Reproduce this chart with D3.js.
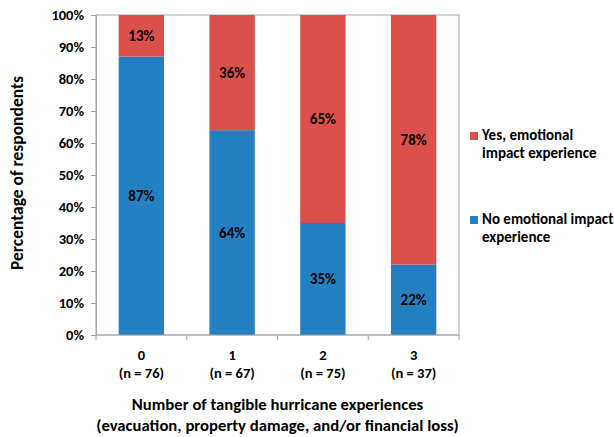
<!DOCTYPE html>
<html>
<head>
<meta charset="utf-8">
<script src="https://cdn.jsdelivr.net/npm/d3@7"></script>
<style>
  body { margin: 0; background: #fff; }
  text { font-family: Carlito, Lato, "Open Sans", sans-serif; font-weight: bold; fill: #000; }
</style>
</head>
<body>
<div id="chart"></div>
<script>
var categories = ["0", "1", "2", "3"];
var sampleSizes = ["(n = 76)", "(n = 67)", "(n = 75)", "(n = 37)"];
var noImpact = [87, 64, 35, 22];
var yesImpact = [13, 36, 65, 78];
var yTicks = [0, 10, 20, 30, 40, 50, 60, 70, 80, 90, 100];
var seriesNames = ["Yes, emotional impact experience", "No emotional impact experience"];

var w = 614,
    h = 437,
    margin = {top: 15, left: 96, right: 155, bottom: 102};
var pw = w - margin.left - margin.right,
    ph = h - margin.top - margin.bottom;

var red = "#dc504c", blue = "#2580c2", axisColor = "#a6a6a6";

var svg = d3.select("#chart").append("svg")
    .attr("width", w)
    .attr("height", h);

var g = svg.append("g")
    .attr("transform", "translate(" + margin.left + "," + margin.top + ")");

var x = d3.scaleBand().domain(categories).range([0, pw]).paddingInner(0.5).paddingOuter(0.25);
var xb = d3.scaleBand().domain(categories).range([0, pw]);
var y = d3.scaleLinear().domain([0, 100]).range([ph, 0]);

var rows = categories.map(function (c, i) {
    return {cat: c, no: noImpact[i], yes: yesImpact[i]};
});
var stack = d3.stack().keys(["no", "yes"])(rows);
var colors = {no: blue, yes: red};

// plot area border
g.append("rect")
    .attr("x", 0).attr("y", 0)
    .attr("width", pw).attr("height", ph)
    .attr("fill", "none")
    .attr("stroke", axisColor)
    .attr("stroke-width", 1);

stack.forEach(function (layer) {
    var lg = g.append("g");
    lg.selectAll("rect").data(layer).enter()
        .append("rect")
        .attr("x", function (d) { return x(d.data.cat); })
        .attr("width", x.bandwidth())
        .attr("y", function (d) { return y(d[1]); })
        .attr("height", function (d) { return y(d[0]) - y(d[1]); })
        .attr("fill", colors[layer.key]);
    lg.selectAll("text").data(layer).enter()
        .append("text")
        .attr("x", function (d) { return x(d.data.cat) + x.bandwidth() / 2; })
        .attr("y", function (d) { return y((d[0] + d[1]) / 2); })
        .attr("dy", "0.35em")
        .attr("text-anchor", "middle")
        .style("font-size", "15px")
        .text(function (d) { return d.data[layer.key] + "%"; });
});

// y axis
var yAxis = g.append("g")
    .call(d3.axisLeft(y).tickValues(yTicks).tickSize(5).tickPadding(7)
        .tickFormat(function (d) { return d + "%"; }));
yAxis.selectAll("line, path").attr("stroke", axisColor);
yAxis.selectAll("text").style("font-size", "14.5px").style("font-family", null);

// x axis with ticks between categories
var xAxis = g.append("g").attr("transform", "translate(0," + ph + ")");
xAxis.append("line").attr("x1", 0).attr("x2", pw).attr("stroke", axisColor);
xAxis.selectAll("line.tk").data(categories.concat(["end"])).enter()
    .append("line")
    .attr("class", "tk")
    .attr("x1", function (d, i) { return i * xb.bandwidth(); })
    .attr("x2", function (d, i) { return i * xb.bandwidth(); })
    .attr("y1", 0).attr("y2", 5)
    .attr("stroke", axisColor);
xAxis.selectAll("text.cat").data(categories).enter()
    .append("text")
    .attr("class", "cat")
    .attr("x", function (d) { return xb(d) + xb.bandwidth() / 2; })
    .attr("y", 25)
    .attr("text-anchor", "middle")
    .style("font-size", "14.5px")
    .text(function (d) { return d; });
xAxis.selectAll("text.n").data(sampleSizes).enter()
    .append("text")
    .attr("class", "n")
    .attr("x", function (d, i) { return xb(categories[i]) + xb.bandwidth() / 2; })
    .attr("y", 43)
    .attr("text-anchor", "middle")
    .style("font-size", "14.5px")
    .text(function (d) { return d; });

// axis titles
var xt = svg.append("text")
    .attr("x", margin.left + pw / 2)
    .attr("text-anchor", "middle")
    .style("font-size", "16.7px");
xt.append("tspan").attr("x", margin.left + pw / 2).attr("y", 410).text("Number of tangible hurricane experiences");
xt.append("tspan").attr("x", margin.left + pw / 2).attr("y", 431).text("(evacuation, property damage, and/or financial loss)");

svg.append("text")
    .attr("transform", "translate(23," + (margin.top + ph / 2 - 2) + ") rotate(-90)")
    .attr("text-anchor", "middle")
    .style("font-size", "17.5px")
    .text("Percentage of respondents");

// legend
var legend = [
    {color: red, lines: ["Yes, emotional", "impact experience"], y: 132},
    {color: blue, lines: ["No emotional impact", "experience"], y: 216}
];
var lgd = svg.selectAll("g.legend").data(legend).enter()
    .append("g").attr("class", "legend")
    .attr("transform", function (d) { return "translate(470," + d.y + ")"; });
lgd.append("rect").attr("width", 8).attr("height", 8).attr("fill", function (d) { return d.color; });
lgd.each(function (d) {
    var t = d3.select(this).append("text").style("font-size", "15px");
    d.lines.forEach(function (l, i) {
        t.append("tspan").attr("x", 12).attr("y", 7.5 + i * 18.5).text(l);
    });
});
</script>
</body>
</html>
